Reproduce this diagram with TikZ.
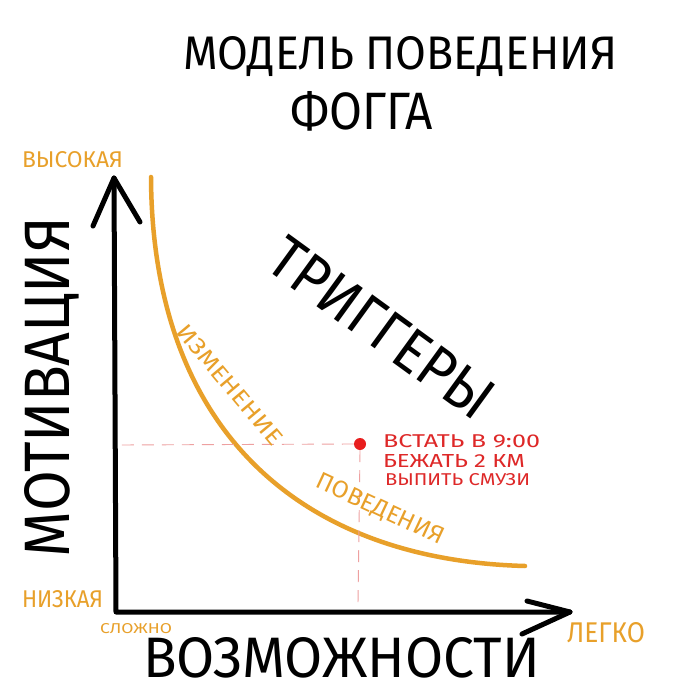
\documentclass[tikz,border=0pt]{standalone}
\usepackage{fontspec}
\setmainfont{Fira Sans}
\usepackage{graphicx}
\definecolor{orng}{RGB}{232,160,42}
\definecolor{rdot}{RGB}{232,30,30}
\definecolor{rdash}{RGB}{238,160,160}
\definecolor{rtext}{RGB}{222,40,40}
\newcommand\fitbox[3]{\resizebox{#1pt}{#2pt}{#3}}
\begin{document}
\begin{tikzpicture}[x=1pt,y=-1pt,
  lbl/.style={inner sep=0pt, outer sep=0pt},
  olbl/.style={lbl, text=orng},
  rlbl/.style={lbl, text=rtext, anchor=base west},
  axisline/.style={line width=5pt, line cap=round, line join=round},
  guide/.style={rdash, line width=0.9pt, dash pattern=on 12pt off 8pt}]
\useasboundingbox (0,0) rectangle (700,700);
\fill[white] (0,0) rectangle (700,700);

% title
\node[lbl, anchor=base west] (t1) at (183,70) {\fitbox{434}{33}{МОДЕЛЬ ПОВЕДЕНИЯ}};
\node[lbl, anchor=base west] (t2) at (290,130) {\fitbox{143}{38}{ФОГГА}};

% axes
\coordinate (O) at (116,612);
\coordinate (YT) at (114,178);
\coordinate (XR) at (570,612);
\coordinate (ywl) at (93,226);
\coordinate (ywr) at (140,222);
\coordinate (xwu) at (527,601);
\coordinate (xwd) at (522,634);
\draw[axisline] (YT) -- (O) -- (XR);
\draw[axisline] (ywl) -- (YT) -- (ywr);
\draw[axisline] (xwu) -- (XR) -- (xwd);

% curve
\coordinate (cs) at (151,177);
\coordinate (ce) at (525,566);
\draw[orng, line width=4.5pt, line cap=round] (cs) .. controls (152,430) and (300,560) .. (ce);

% point and guides
\node[circle, fill=rdot, inner sep=0pt, minimum size=12pt] (pt) at (360,444) {};
\coordinate (gx) at (118,445);
\coordinate (gy) at (358,604);
\draw[guide] (pt.west) -- (gx);
\draw[guide] (pt.south) -- (gy);

% labels
\node[lbl, rotate=-36] (trig) at (382,328) {\fitbox{262}{42}{ТРИГГЕРЫ}};
\node[lbl, rotate=90] (mot) at (52,387) {\fitbox{340}{45}{МОТИВАЦИЯ}};
\node[lbl, anchor=base west] (voz) at (143,677) {\fitbox{397}{40}{ВОЗМОЖНОСТИ}};

\node[olbl, anchor=base west] (hi) at (22,168) {\fitbox{101}{16}{ВЫСОКАЯ}};
\node[olbl, anchor=base west] (lo) at (22,607) {\fitbox{81}{17}{НИЗКАЯ}};
\node[olbl, anchor=base west] (hard) at (100,633) {\fitbox{72}{10}{СЛОЖНО}};
\node[olbl, anchor=base west] (easy) at (567,642) {\fitbox{78}{20}{ЛЕГКО}};
\node[olbl, rotate=-50] (ch1) at (230,385) {\fitbox{150}{16}{ИЗМЕНЕНИЕ}};
\node[olbl, rotate=-25] (ch2) at (380,510) {\fitbox{138}{17}{ПОВЕДЕНИЯ}};

\node[rlbl] (r1) at (383,447) {\fitbox{157}{13}{ВСТАТЬ В 9:00}};
\node[rlbl] (r2) at (383,467) {\fitbox{142}{13}{БЕЖАТЬ 2 КМ}};
\node[rlbl] (r3) at (385,485) {\fitbox{145}{12}{ВЫПИТЬ СМУЗИ}};
\end{tikzpicture}
\end{document}
